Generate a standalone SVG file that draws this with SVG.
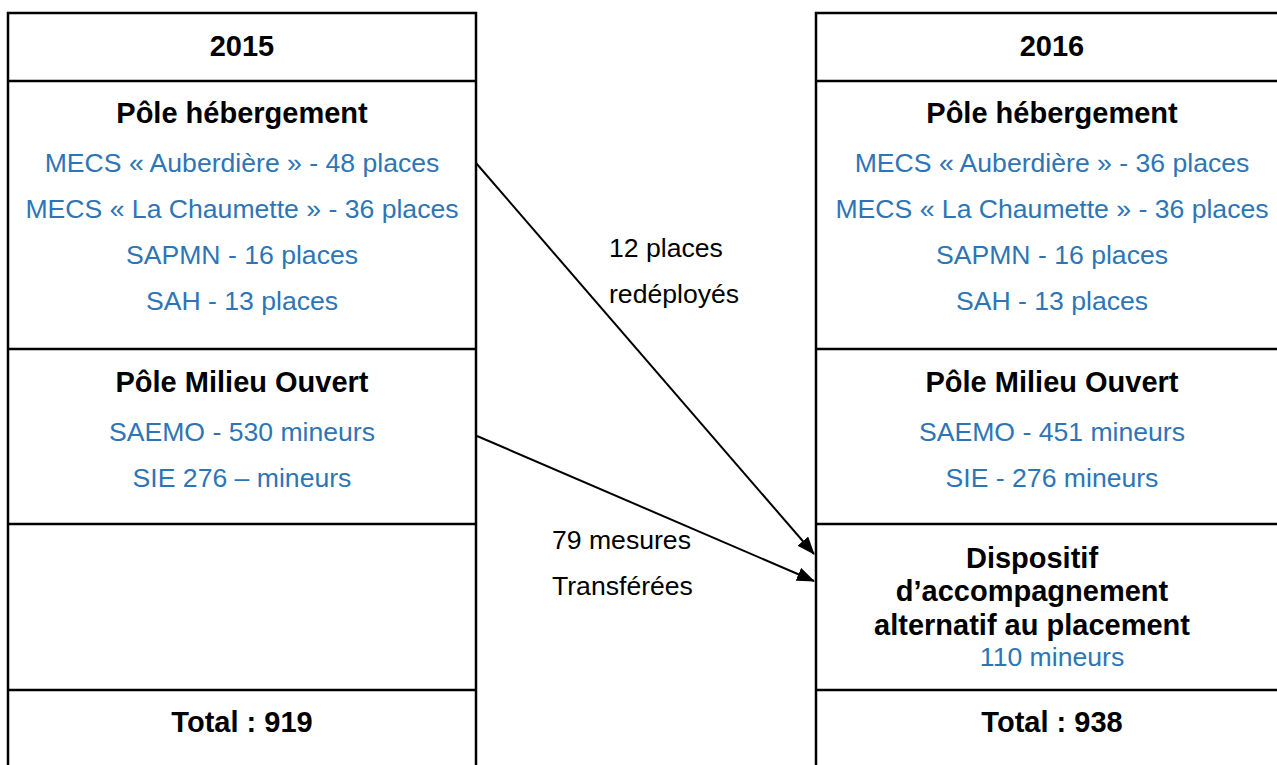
<svg xmlns="http://www.w3.org/2000/svg" width="1277" height="765" viewBox="0 0 1277 765">
<defs>
<style>
.box{fill:#fff;stroke:#000;stroke-width:2.5}
.sep{stroke:#000;stroke-width:2.5}
.t{font-family:"Liberation Sans",Arial,sans-serif;text-anchor:middle}
.b{font-weight:bold;font-size:29px;fill:#000}
.r{font-size:26.6px;fill:#2E75B6}
.lab{font-family:"Liberation Sans",Arial,sans-serif;font-size:26.6px;fill:#000}
.con{stroke:#000;stroke-width:2;fill:none;marker-end:url(#ah)}
</style>
<marker id="ah" markerUnits="userSpaceOnUse" markerWidth="18" markerHeight="14" refX="17" refY="7" orient="auto" viewBox="0 0 18 14">
<path d="M0,0 L18,7 L0,14 z" fill="#000"/>
</marker>
</defs>
<rect width="1277" height="765" fill="#fff"/>
<g id="col2015">
<rect class="box" x="8" y="13" width="468" height="770"/>
<line class="sep" x1="8" y1="81" x2="476" y2="81"/>
<line class="sep" x1="8" y1="349" x2="476" y2="349"/>
<line class="sep" x1="8" y1="524" x2="476" y2="524"/>
<line class="sep" x1="8" y1="690" x2="476" y2="690"/>
<text class="t b" x="242" y="56">2015</text>
<text class="t b" x="242" y="123">Pôle hébergement</text>
<text class="t r" x="242" y="172">MECS « Auberdière » - 48 places</text>
<text class="t r" x="242" y="218">MECS « La Chaumette » - 36 places</text>
<text class="t r" x="242" y="264">SAPMN - 16 places</text>
<text class="t r" x="242" y="310">SAH - 13 places</text>
<text class="t b" x="242" y="392">Pôle Milieu Ouvert</text>
<text class="t r" x="242" y="441">SAEMO - 530 mineurs</text>
<text class="t r" x="242" y="487">SIE 276 – mineurs</text>
<text class="t b" x="242" y="732">Total : 919</text>
</g>
<g id="col2016">
<rect class="box" x="816" y="13" width="478" height="770"/>
<line class="sep" x1="816" y1="81" x2="1294" y2="81"/>
<line class="sep" x1="816" y1="349" x2="1294" y2="349"/>
<line class="sep" x1="816" y1="524" x2="1294" y2="524"/>
<line class="sep" x1="816" y1="690" x2="1294" y2="690"/>
<text class="t b" x="1052" y="56">2016</text>
<text class="t b" x="1052" y="123">Pôle hébergement</text>
<text class="t r" x="1052" y="172">MECS « Auberdière » - 36 places</text>
<text class="t r" x="1052" y="218">MECS « La Chaumette » - 36 places</text>
<text class="t r" x="1052" y="264">SAPMN - 16 places</text>
<text class="t r" x="1052" y="310">SAH - 13 places</text>
<text class="t b" x="1052" y="392">Pôle Milieu Ouvert</text>
<text class="t r" x="1052" y="441">SAEMO - 451 mineurs</text>
<text class="t r" x="1052" y="487">SIE - 276 mineurs</text>
<text class="t b" x="1032" y="568">Dispositif</text>
<text class="t b" x="1032" y="601">d’accompagnement</text>
<text class="t b" x="1032" y="635">alternatif au placement</text>
<text class="t r" x="1052" y="666">110 mineurs</text>
<text class="t b" x="1052" y="732">Total : 938</text>
</g>
<g id="connectors">
<line class="con" x1="476" y1="163" x2="814" y2="554"/>
<line class="con" x1="477" y1="436" x2="814" y2="581"/>
<text class="lab" x="609" y="257">12 places</text>
<text class="lab" x="609" y="303">redéployés</text>
<text class="lab" x="552" y="549">79 mesures</text>
<text class="lab" x="552" y="595">Transférées</text>
</g>
</svg>
